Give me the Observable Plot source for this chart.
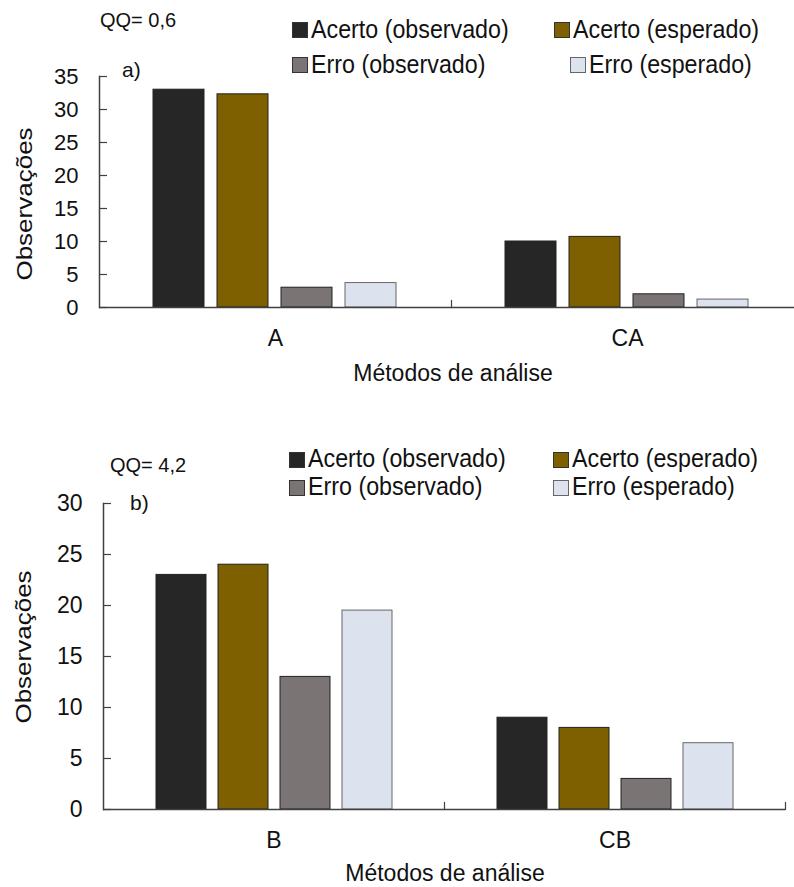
<!DOCTYPE html>
<html>
<head>
<meta charset="utf-8">
<script src="https://cdn.jsdelivr.net/npm/d3@7"></script>
<script src="https://cdn.jsdelivr.net/npm/@observablehq/plot@0.6"></script>
<style>
  html, body { margin: 0; padding: 0; background: #fff; overflow: hidden; }
  #wrap { position: relative; width: 794px; height: 887px; overflow: hidden; background: #fff;
          font-family: "Liberation Sans", Arial, sans-serif; color: #111; }
  .abs { position: absolute; white-space: nowrap; line-height: 1; }
  .sw { position: absolute; width: 16px; height: 16px; border: 1px solid #333; box-sizing: border-box; }
  svg { position: absolute; left: 0; }
</style>
</head>
<body>
<div id="wrap"></div>
<script>
// ---------------- data ----------------
const series = ["Acerto (observado)", "Acerto (esperado)", "Erro (observado)", "Erro (esperado)"];
const colors = ["#262626", "#7f6000", "#7a7474", "#dce3ee"];

const categoriesA = ["A", "CA"];
const acertoObsA = [33.0, 10.0];
const acertoEspA = [32.3, 10.7];
const erroObsA   = [3.0, 2.0];
const erroEspA   = [3.7, 1.2];
const ticksA = [0, 5, 10, 15, 20, 25, 30, 35];

const categoriesB = ["B", "CB"];
const acertoObsB = [23.0, 9.0];
const acertoEspB = [24.0, 8.0];
const erroObsB   = [13.0, 3.0];
const erroEspB   = [19.5, 6.5];
const ticksB = [0, 5, 10, 15, 20, 25, 30];

const qqA = "QQ= 0,6", qqB = "QQ= 4,2";
const tagA = "a)", tagB = "b)";
const yTitle = "Observações";
const xTitle = "Métodos de análise";

// ---------------- helpers ----------------
const wrap = document.getElementById("wrap");
const FONT = '"Liberation Sans", Arial, sans-serif';

function rowsOf(cats, cols) {
  return cats.flatMap((c, i) => series.map((s, j) => ({cat: c, series: s, value: cols[j][i]})));
}

function text(str, x, baseline, size, align, sx) {
  const d = document.createElement("div");
  d.className = "abs";
  d.textContent = str;
  d.style.fontSize = size + "px";
  d.style.left = x + "px";
  d.style.top = (baseline - 0.8465 * size) + "px";
  if (align === "middle") d.style.transform = "translateX(-50%)";
  else if (sx) { d.style.transformOrigin = "0 0"; d.style.transform = `scaleX(${sx})`; }
  wrap.appendChild(d);
  return d;
}
function vtext(str, cx, cy, size, sy) {
  const d = document.createElement("div");
  d.className = "abs";
  d.textContent = str;
  d.style.fontSize = size + "px";
  d.style.left = cx + "px";
  d.style.top = cy + "px";
  d.style.transform = `translate(-50%, -50%) rotate(-90deg) scaleY(${sy})`;
  wrap.appendChild(d);
}
function swatch(x, baseline, color) {
  const d = document.createElement("div");
  d.className = "sw";
  d.style.left = x + "px";
  d.style.top = (baseline - 16) + "px";
  d.style.background = color;
  if (color === "#dce3ee") d.style.borderColor = "#666";
  wrap.appendChild(d);
}

function panel({cats, cols, ticks, yMax, top, height, mt, mb, ml, mr, tickFont}) {
  const rows = rowsOf(cats, cols);
  const innerH = height - mt - mb;
  const chart = Plot.plot({
    width: 794, height,
    marginTop: mt, marginBottom: mb, marginLeft: ml, marginRight: mr,
    style: {fontFamily: FONT, background: "transparent", overflow: "visible", color: "#111"},
    fx: {domain: cats, padding: 0, label: null},
    x: {domain: series, paddingInner: 0.2, paddingOuter: 0.85, axis: null},
    y: {domain: [0, yMax]},
    color: {domain: series, range: colors},
    marks: [
      Plot.barY(rows, {fx: "cat", x: "series", y: "value", fill: "series",
        stroke: d => d.series === series[3] ? "#666" : "#222", strokeWidth: 1}),
      Plot.ruleY([0], {stroke: "#404040", strokeWidth: 1.5}),
      Plot.frame({anchor: "left", facetAnchor: "left", stroke: "#404040", strokeWidth: 1.5}),
      Plot.frame({anchor: "right", insetTop: innerH - 7, stroke: "#404040", strokeWidth: 1.2}),
      Plot.axisY(ticks, {anchor: "left", tickSize: 0, tickPadding: 21, fontSize: tickFont, label: null}),
      Plot.axisY(ticks, {anchor: "left", tickSize: -8, text: null, label: null, stroke: "#404040", strokeWidth: 1.2}),
      Plot.axisFx({anchor: "bottom", tickSize: 0, tickPadding: 22, fontSize: 23, label: null})
    ]
  });
  chart.style.top = top + "px";
  wrap.appendChild(chart);
}

// ---------------- panel a ----------------
panel({cats: categoriesA, cols: [acertoObsA, acertoEspA, erroObsA, erroEspA], ticks: ticksA, yMax: 35,
       top: 0, height: 390, mt: 76, mb: 83, ml: 99, mr: -9, tickFont: 22});
text(qqA, 100, 27, 20);
text(tagA, 122, 77, 21);
vtext(yTitle, 24, 204, 26, 0.85);
text(xTitle, 453, 381.5, 23, "middle");
// legend a
const legA = [[292, 38.3], [554, 38.3], [292, 73.3], [570, 73.3]];
series.forEach((s, i) => {
  const [x, b] = legA[i];
  swatch(x, b, colors[i]);
  text(s, x + 19, b, 25, null, 0.93);
});

// ---------------- panel b ----------------
panel({cats: categoriesB, cols: [acertoObsB, acertoEspB, erroObsB, erroEspB], ticks: ticksB, yMax: 30,
       top: 440, height: 447, mt: 63, mb: 78, ml: 103, mr: 9, tickFont: 23});
text(qqB, 110, 472, 20);
text(tagB, 130, 510, 21);
vtext(yTitle, 23, 647, 26, 0.85);
text(xTitle, 445, 881, 23, "middle");
const legB = [[289, 467.5], [553, 467.5], [289, 495.5], [553, 495.5]];
series.forEach((s, i) => {
  const [x, b] = legB[i];
  swatch(x, b, colors[i]);
  text(s, x + 19, b, 25, null, 0.93);
});
</script>
</body>
</html>
